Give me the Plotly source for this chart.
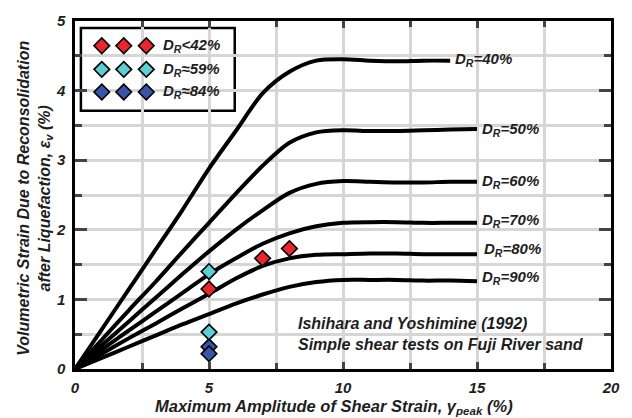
import plotly.graph_objects as go

# Shear strain amplitude (%) at which each curve is sampled
gamma = [0, 1, 2, 3, 4, 5, 6, 7, 8, 9, 10, 11, 12, 13, 14, 15]

# Volumetric strain curves (%) for each relative density
curve_labels = ["40%", "50%", "60%", "70%", "80%", "90%"]
ev_40 = [0, 0.57, 1.14, 1.71, 2.28, 2.88, 3.42, 3.96, 4.27, 4.43, 4.45, 4.43, 4.42, 4.43, 4.43]
ev_50 = [0, 0.42, 0.84, 1.25, 1.68, 2.10, 2.52, 2.92, 3.25, 3.40, 3.43, 3.42, 3.42, 3.43, 3.44, 3.45]
ev_60 = [0, 0.34, 0.68, 1.02, 1.36, 1.69, 2.00, 2.28, 2.53, 2.66, 2.70, 2.69, 2.68, 2.68, 2.69, 2.69]
ev_70 = [0, 0.28, 0.55, 0.82, 1.09, 1.36, 1.59, 1.80, 1.95, 2.05, 2.10, 2.11, 2.11, 2.10, 2.10, 2.10]
ev_80 = [0, 0.22, 0.44, 0.65, 0.87, 1.08, 1.30, 1.48, 1.59, 1.64, 1.65, 1.66, 1.66, 1.65, 1.65, 1.65]
ev_90 = [0, 0.16, 0.32, 0.48, 0.64, 0.79, 0.94, 1.07, 1.18, 1.25, 1.28, 1.28, 1.28, 1.27, 1.27, 1.26]
curves = [ev_40, ev_50, ev_60, ev_70, ev_80, ev_90]
# gamma / strain at which each curve's end label sits
label_x = [14.1, 15.1, 15.1, 15.1, 15.2, 15.1]
label_y = [4.45, 3.44, 2.70, 2.14, 1.71, 1.32]

# Test results (Ishihara & Yoshimine 1992)
loose_x = [5, 7, 8]
loose_y = [1.15, 1.59, 1.73]
medium_x = [5, 5]
medium_y = [1.40, 0.53]
dense_x = [5, 5]
dense_y = [0.32, 0.22]

group_names = ["D<sub>R</sub><42%", "D<sub>R</sub>≈59%", "D<sub>R</sub>≈84%"]
group_colors = ["#e8262b", "#5dcdd6", "#3a55a6"]

FONT = "Arial, Liberation Sans, sans-serif"


def bi(size):
    return dict(family=FONT, size=size, color="#1e1e1e", weight="bold", style="italic")


fig = go.Figure()

for ev in curves:
    fig.add_trace(go.Scatter(
        x=gamma[:len(ev)], y=ev, mode="lines",
        line=dict(color="black", width=4, shape="spline", smoothing=0.8),
        showlegend=False, hoverinfo="skip"))

marker_common = dict(symbol="diamond", size=12, line=dict(color="black", width=1.6))
for xs, ys, col in zip([dense_x, medium_x, loose_x], [dense_y, medium_y, loose_y],
                       [group_colors[2], group_colors[1], group_colors[0]]):
    fig.add_trace(go.Scatter(x=xs, y=ys, mode="markers",
                             marker=dict(color=col, **marker_common),
                             showlegend=False))

# Key: three swatches per group, drawn on an overlay axis in plot-fraction units
key_cols = [0.05, 0.091, 0.133]
key_rows = [0.929, 0.861, 0.796]
for name, col, ky in zip(group_names, group_colors, key_rows):
    fig.add_trace(go.Scatter(x=key_cols, y=[ky] * 3, mode="markers",
                             marker=dict(color=col, **marker_common),
                             xaxis="x2", yaxis="y2", showlegend=False,
                             hoverinfo="skip"))
    fig.add_annotation(x=0.161, y=ky, xref="x2", yref="y2", text=name,
                       showarrow=False, xanchor="left", yanchor="middle",
                       font=bi(15))

fig.add_shape(type="rect", xref="x2", yref="y2", x0=0.011, x1=0.298,
              y0=0.742, y1=0.98, line=dict(color="black", width=2.5),
              fillcolor="white", layer="below")

for lab, lx, ly in zip(curve_labels, label_x, label_y):
    fig.add_annotation(x=lx, y=ly, text="D<sub>R</sub>=" + lab, showarrow=False,
                       xanchor="left", yanchor="middle", font=bi(15))

fig.add_annotation(x=8.25, y=0.50, text="Ishihara and Yoshimine (1992)<br>"
                   "Simple shear tests on Fuji River sand",
                   showarrow=False, xanchor="left", yanchor="middle", align="left",
                   font=bi(16))

# Axis titles
fig.add_annotation(x=0.483, y=-0.11, xref="paper", yref="paper",
                   text="Maximum Amplitude of Shear Strain, <i>γ</i><sub>peak</sub> (%)",
                   showarrow=False, xanchor="center", yanchor="middle",
                   font=bi(16.5))
fig.add_annotation(x=-0.074, y=0.49, xref="paper", yref="paper", textangle=-90,
                   text="Volumetric Strain Due to Reconsolidation<br>"
                        "after Liquefaction, <i>ε</i><sub>v</sub> (%)",
                   showarrow=False, xanchor="center", yanchor="middle",
                   font=bi(16))

tick_font = bi(15)
grid_col = "#d6d6d6"

fig.update_layout(
    width=632, height=418,
    margin=dict(l=75, r=13, t=16, b=49),
    paper_bgcolor="white", plot_bgcolor="white",
    showlegend=False,
    xaxis=dict(range=[0, 20], dtick=5, tick0=0, showgrid=True, gridcolor=grid_col,
               gridwidth=2.5, zeroline=False, showline=True, linecolor="black",
               linewidth=2.5, mirror="allticks", ticks="inside", ticklen=7,
               tickwidth=2.5, tickcolor="#444", tickfont=tick_font,
               ticklabelstandoff=3,
               minor=dict(dtick=2.5, tick0=0, showgrid=True, gridcolor=grid_col,
                          gridwidth=2.5, ticks="inside", ticklen=6,
                          tickwidth=2.5, tickcolor="#444")),
    yaxis=dict(range=[0, 5], dtick=1, tick0=0, showgrid=True, gridcolor=grid_col,
               gridwidth=2.5, zeroline=False, showline=True, linecolor="black",
               linewidth=2.5, mirror="allticks", ticks="inside", ticklen=12,
               tickwidth=2.5, tickcolor="#444", tickfont=tick_font,
               ticklabelstandoff=4,
               minor=dict(dtick=0.5, tick0=0, showgrid=True, gridcolor=grid_col,
                          gridwidth=2.5, ticks="inside", ticklen=7,
                          tickwidth=2.5, tickcolor="#444")),
    xaxis2=dict(range=[0, 1], overlaying="x", visible=False, fixedrange=True),
    yaxis2=dict(range=[0, 1], overlaying="y", visible=False, fixedrange=True),
)

fig.write_html("out.html")
